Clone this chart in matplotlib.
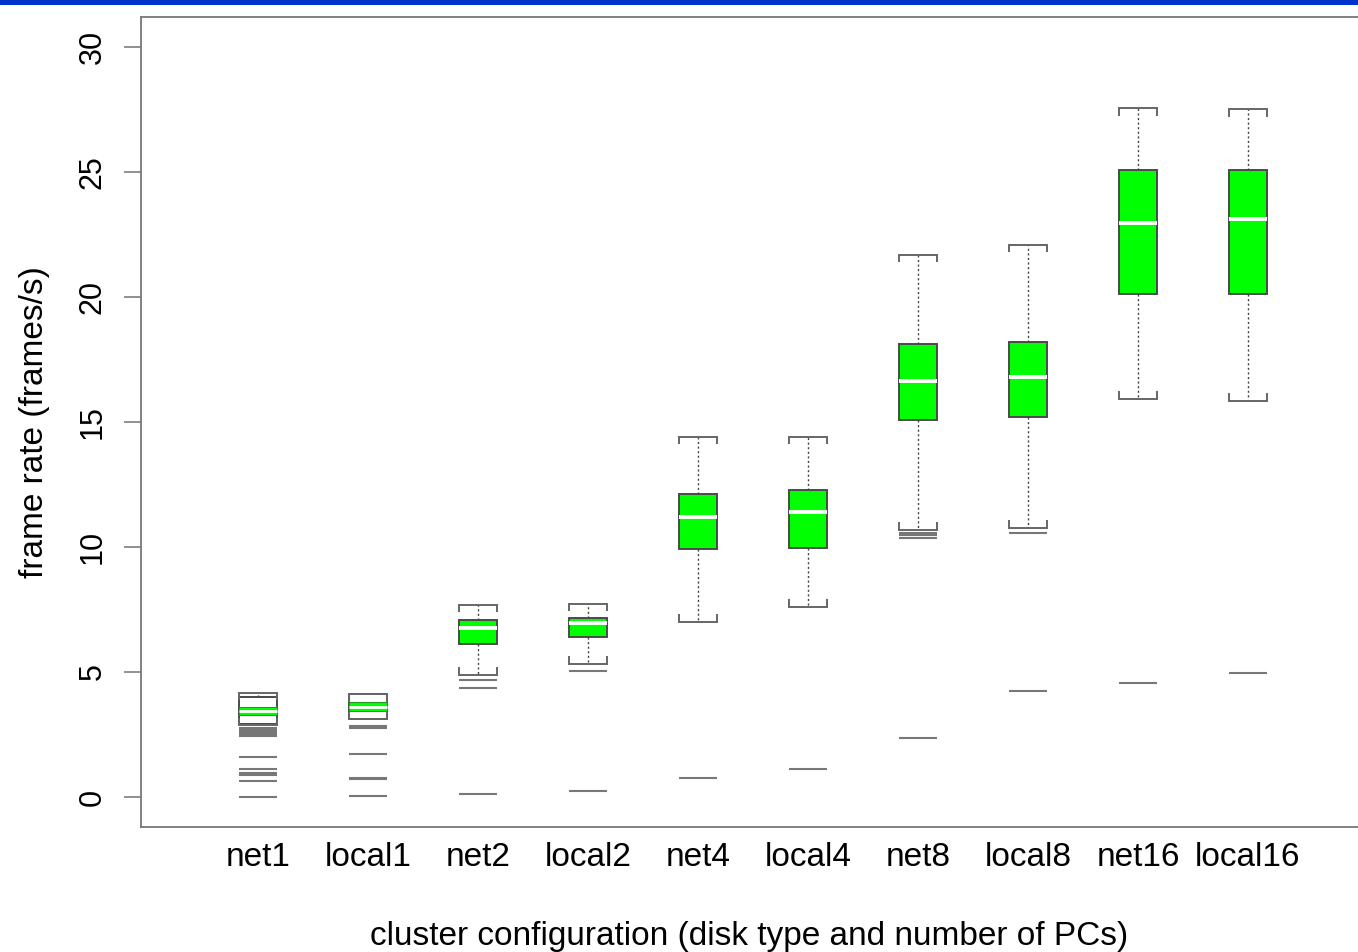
import matplotlib
matplotlib.use("Agg")
import matplotlib.pyplot as plt
from matplotlib.patches import Rectangle

plt.rcParams['font.family'] = ['Liberation Sans', 'DejaVu Sans']

# frame-rate summaries per cluster configuration
labels = ['net1', 'local1', 'net2', 'local2', 'net4', 'local4',
          'net8', 'local8', 'net16', 'local16']
whislo = [2.88, 3.11, 4.89, 5.33, 7.01, 7.61, 10.69, 10.77, 15.94, 15.86]
q1 = [2.92, 3.11, 6.13, 6.41, 9.93, 9.97, 15.10, 15.22, 20.14, 20.14]
med = [3.44, 3.62, 6.77, 6.97, 11.21, 11.41, 16.66, 16.82, 22.95, 23.11]
q3 = [4.00, 4.11, 7.09, 7.17, 12.13, 12.29, 18.10, 18.22, 25.07, 25.07]
whishi = [4.17, 4.11, 7.69, 7.73, 14.42, 14.42, 21.70, 22.10, 27.55, 27.51]
outliers = [
    [2.76, 2.68, 2.60, 2.52, 2.45, 1.60, 1.12, 0.96, 0.88, 0.64, 0.0],
    [2.84, 2.78, 1.72, 0.76, 0.72, 0.04],
    [4.69, 4.37, 0.12],
    [5.05, 0.24],
    [0.76],
    [1.12],
    [10.57, 10.49, 10.37, 2.36],
    [10.57, 4.25],
    [4.57],
    [4.97],
]
yticks = [0, 5, 10, 15, 20, 25, 30]

W, H, DPI = 1358, 952, 100
fig = plt.figure(figsize=(W / DPI, H / DPI), dpi=DPI)
fig.patch.set_facecolor('white')

# blue strip along the top edge
fig.add_artist(Rectangle((0, 1 - 5 / H), 1, 5 / H, transform=fig.transFigure,
                         facecolor='#0033cc', edgecolor='none'))

ax = fig.add_axes([141 / W, 1 - 827 / H, 1 - 141 / W, (827 - 17) / H])

pos = list(range(1, len(labels) + 1))
bw = 0.35
stats = [dict(label=l, whislo=a, q1=b, med=c, q3=d, whishi=e, fliers=[])
         for l, a, b, c, d, e in zip(labels, whislo, q1, med, q3, whishi)]

edge = '#4a4a4a'
bp = ax.bxp(stats, positions=pos, widths=bw, patch_artist=True,
            showfliers=False, capwidths=bw,
            boxprops=dict(facecolor='#00ff00', edgecolor=edge, linewidth=1.4),
            medianprops=dict(color='white', linewidth=2.8),
            whiskerprops=dict(color='#444444', linewidth=1.0,
                              linestyle=(0, (1.5, 1.8))),
            capprops=dict(color='#666666', linewidth=1.4))

# single-PC boxes: white body with a green band around the median
for i, box in enumerate(bp['boxes']):
    if whishi[i] - whislo[i] < 2:
        box.set_facecolor('white')
        ax.add_patch(Rectangle((pos[i] - bw / 2, med[i] - 0.17), bw, 0.34,
                               facecolor='#00ff00', edgecolor='#229922',
                               linewidth=0.8, zorder=2.5))
for i, m in enumerate(bp['medians']):
    m.set_zorder(3)
    if whishi[i] - whislo[i] < 2:
        m.set_linewidth(2.0)

# short end ticks on the caps, pointing toward the box
tick = 0.3
for x, lo, hi in zip(pos, whislo, whishi):
    for xe in (x - bw / 2, x + bw / 2):
        ax.plot([xe, xe], [lo, lo + tick], color='#666666', lw=1.4,
                solid_capstyle='butt')
        ax.plot([xe, xe], [hi, hi - tick], color='#666666', lw=1.4,
                solid_capstyle='butt')

# outliers drawn as horizontal dashes
for x, vals in zip(pos, outliers):
    ax.hlines(vals, x - bw / 2, x + bw / 2, colors='#777777', linewidth=1.5)

ax.set_xlim(1 - 117 / 110, 1 + 1100 / 110)
ax.set_ylim(-1.2, 31.2)

ax.set_yticks(yticks)
ax.set_yticklabels([str(v) for v in yticks], rotation=90, va='center',
                   fontsize=22)
ax.tick_params(axis='y', length=12, width=1.3, color='#888888', pad=12,
               direction='out')
ax.set_xticks(pos)
ax.set_xticklabels(labels, fontsize=24)
ax.tick_params(axis='x', length=0, pad=11)

for s in ('left', 'top', 'bottom'):
    ax.spines[s].set_color('#777777')
    ax.spines[s].set_linewidth(1.3)
ax.spines['right'].set_visible(False)

ax.set_ylabel('frame rate (frames/s)', fontsize=24, labelpad=20)
ax.set_xlabel('cluster configuration (disk type and number of PCs)',
              fontsize=24, labelpad=34)

fig.savefig('out.png', dpi=DPI)
